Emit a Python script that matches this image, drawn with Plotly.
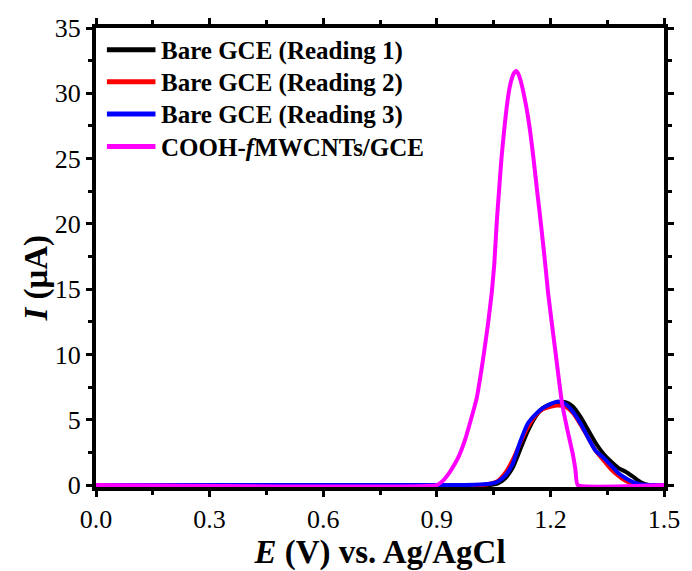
import plotly.graph_objects as go

# Bare GCE (Reading 1) - black
e_r1 = [0.0, 0.90, 1.04, 1.06, 1.08, 1.10, 1.12, 1.14, 1.16, 1.18, 1.20, 1.22, 1.24, 1.26,
        1.28, 1.30, 1.32, 1.34, 1.36, 1.38, 1.40, 1.42, 1.44, 1.46, 1.5]
i_r1 = [0, 0, 0, 0.1, 0.5, 1.3, 2.7, 4.1, 5.2, 5.9, 6.2, 6.35, 6.35, 6.0,
        5.2, 4.2, 3.2, 2.4, 1.8, 1.3, 1.0, 0.6, 0.2, 0, 0]

# Bare GCE (Reading 2) - red
e_r2 = [0.0, 0.90, 1.02, 1.04, 1.06, 1.08, 1.10, 1.12, 1.14, 1.16, 1.18, 1.20, 1.22, 1.24,
        1.26, 1.28, 1.30, 1.32, 1.34, 1.36, 1.38, 1.40, 1.42, 1.44, 1.5]
i_r2 = [0, 0, 0, 0.1, 0.3, 0.9, 1.9, 3.2, 4.4, 5.3, 5.8, 6.0, 6.1, 6.0,
        5.5, 4.6, 3.6, 2.6, 1.9, 1.2, 0.7, 0.3, 0.1, 0, 0]

# Bare GCE (Reading 3) - blue
e_r3 = [0.0, 0.90, 1.00, 1.04, 1.06, 1.08, 1.10, 1.12, 1.14, 1.16, 1.18, 1.20, 1.22, 1.24,
        1.26, 1.28, 1.30, 1.32, 1.34, 1.36, 1.38, 1.40, 1.42, 1.44, 1.46, 1.5]
i_r3 = [0, 0, 0.02, 0.1, 0.25, 0.7, 1.6, 3.3, 4.7, 5.4, 5.9, 6.2, 6.4, 6.2,
        5.6, 4.7, 3.6, 2.6, 2.1, 1.5, 0.9, 0.5, 0.2, 0.05, 0, 0]

# COOH-fMWCNTs/GCE - magenta
e_mw = [0.0, 0.90, 0.915, 0.932, 0.945, 0.958, 0.975, 0.99, 1.005, 1.023, 1.035, 1.045,
        1.052, 1.058, 1.065, 1.071, 1.078, 1.084, 1.092, 1.100, 1.105, 1.110, 1.115,
        1.122, 1.130, 1.138, 1.146, 1.155, 1.165, 1.175, 1.185, 1.194, 1.205, 1.215,
        1.230, 1.245, 1.259, 1.266, 1.272, 1.5]
i_mw = [0, 0, 0.3, 0.9, 1.5, 2.2, 3.5, 5.0, 6.6, 9.8, 12.3, 14.7,
        17.0, 20.0, 22.8, 25.1, 27.2, 28.8, 30.4, 31.3, 31.6, 31.7, 31.5,
        30.9, 29.9, 28.7, 27.2, 25.1, 22.5, 20.0, 17.3, 14.7, 12.1, 9.8,
        6.4, 4.2, 2.4, 1.2, 0, 0]

names = ["Bare GCE (Reading 1)", "Bare GCE (Reading 2)", "Bare GCE (Reading 3)",
         "COOH-<i>f</i>MWCNTs/GCE"]
colors = ["#000000", "#ff0000", "#0000ff", "#ff00ff"]
xs = [e_r1, e_r2, e_r3, e_mw]
ys = [i_r1, i_r2, i_r3, i_mw]
smooth = [0.6, 0.6, 0.6, 0.35]

fig = go.Figure()
for k in range(4):
    fig.add_trace(go.Scatter(
        x=xs[k], y=ys[k], mode="lines", name=names[k], showlegend=False,
        line=dict(color=colors[k], width=4, shape="spline", smoothing=smooth[k]),
    ))

font_family = "Liberation Serif, Times New Roman, serif"
axis_common = dict(
    showgrid=False, zeroline=False, showline=True, linecolor="black", linewidth=4,
    mirror="allticks", ticks="outside", ticklen=6, tickwidth=3, tickcolor="black",
    tickfont=dict(family=font_family, size=26, color="black"),
)

# manual legend (paper coordinates)
W, H, L, T = 692, 571, 96, 28
B = 78
pw, ph = W - L - 23, H - T - B
def px(x):
    return (x - L) / pw
def py(y):
    return 1 - (y - T) / ph

row_y = [50, 82.5, 115, 148]
shapes = []
annotations = []
for k in range(4):
    shapes.append(dict(type="line", xref="paper", yref="paper",
                       x0=px(107), x1=px(156), y0=py(row_y[k]), y1=py(row_y[k]),
                       line=dict(color=colors[k], width=5)))
    annotations.append(dict(text="<b>" + names[k] + "</b>", showarrow=False,
                            xref="paper", yref="paper", x=px(160), y=py(row_y[k] + 1),
                            xanchor="left", yanchor="middle",
                            font=dict(family=font_family, size=25, color="black")))

annotations.append(dict(
    text="<b><i>I</i> (μA)</b>", textangle=-90, showarrow=False,
    xref="paper", yref="paper", x=-0.105, y=0.455, xanchor="center", yanchor="middle",
    font=dict(family=font_family, size=33, color="black"),
))

fig.update_layout(
    width=W, height=H,
    margin=dict(l=L, r=23, t=T, b=B),
    paper_bgcolor="white", plot_bgcolor="white",
    showlegend=False,
    xaxis=dict(
        range=[0, 1.5], tickmode="linear", tick0=0, dtick=0.3, tickformat=".1f",
        minor=dict(ticks="outside", ticklen=4, tickwidth=3, dtick=0.15, tickcolor="black"),
        title=dict(text="<b><i>E</i> (V) vs. Ag/AgCl</b>",
                   font=dict(family=font_family, size=33, color="black"), standoff=2),
        **axis_common,
    ),
    yaxis=dict(
        range=[-0.15, 35], tickmode="linear", tick0=0, dtick=5,
        minor=dict(ticks="outside", ticklen=4, tickwidth=3, dtick=2.5, tickcolor="black"),
        **axis_common,
    ),
    shapes=shapes,
    annotations=annotations,
)

fig.write_html("out.html")
